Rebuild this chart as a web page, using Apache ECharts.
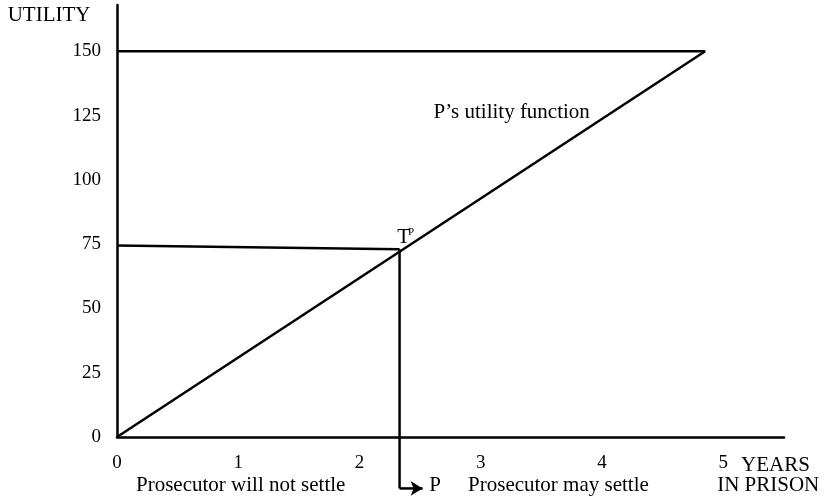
<!DOCTYPE html>
<html>
<head>
<meta charset="utf-8">
<script src="https://cdn.jsdelivr.net/npm/echarts@6/dist/echarts.min.js"></script>
<style>
  html, body { margin: 0; padding: 0; background: #fff; }
  #main { width: 826px; height: 498px; }
</style>
</head>
<body>
<div id="main"></div>
<script>
// values (years in prison vs utility)
var xTicks = [0, 1, 2, 3, 4, 5];
var yTicks = [0, 25, 50, 75, 100, 125, 150];
var utilityX = [0, 4.85];
var utilityY = [0, 150];
var topLineX = [0, 4.85];
var topLineY = [150, 150];
var settleX = [0, 2.33];
var settleY = [74.5, 73];
var dropX = [2.33, 2.33];
var dropY = [73, -20];
var arrowX = [2.33, 2.52];
var arrowY = [-20, -20];

var font = '"Liberation Serif", "Times New Roman", serif';
var lineStyle = { color: '#000', width: 2.5 };

function pairs(xs, ys) {
  return xs.map(function (x, i) { return [x, ys[i]]; });
}

var chart = echarts.init(document.getElementById('main'), null, { renderer: 'canvas' });

// arrow head only on the last point
var arrowData = pairs(arrowX, arrowY).map(function (p, i) {
  if (i === arrowX.length - 1) {
    return { value: p, symbol: 'arrow', symbolSize: [11, 12], symbolRotate: -90 };
  }
  return { value: p, symbol: 'none' };
});

var option = {
  animation: false,
  backgroundColor: '#fff',
  grid: { left: 117, right: 42, top: 5, bottom: 61, containLabel: false },
  xAxis: {
    type: 'value',
    min: 0,
    max: 5.5,
    interval: 1,
    splitLine: { show: false },
    axisTick: { show: false },
    axisLine: { onZero: false, lineStyle: { color: '#000', width: 2.5 } },
    axisLabel: {
      margin: 17,
      color: '#000',
      fontFamily: font,
      fontSize: 19,
      showMaxLabel: false,
      formatter: function (v) { return xTicks.indexOf(v) >= 0 ? String(v) : ''; }
    }
  },
  yAxis: {
    type: 'value',
    min: 0,
    max: 168,
    interval: 25,
    splitLine: { show: false },
    axisTick: { show: false },
    axisLine: { onZero: false, lineStyle: { color: '#000', width: 2.5 } },
    axisLabel: {
      margin: 16,
      color: '#000',
      fontFamily: font,
      fontSize: 19,
      showMaxLabel: false,
      formatter: function (v) { return yTicks.indexOf(v) >= 0 ? String(v) : ''; }
    }
  },
  series: [
    { type: 'line', data: pairs(utilityX, utilityY), symbol: 'none', lineStyle: lineStyle, clip: false },
    { type: 'line', data: pairs(topLineX, topLineY), symbol: 'none', lineStyle: lineStyle, clip: false },
    { type: 'line', data: pairs(settleX, settleY), symbol: 'none', lineStyle: lineStyle, clip: false },
    { type: 'line', data: pairs(dropX, dropY), symbol: 'none', lineStyle: lineStyle, clip: false },
    {
      type: 'line', data: arrowData, showSymbol: true, showAllSymbol: true,
      itemStyle: { color: '#000' }, lineStyle: lineStyle, clip: false
    }
  ]
};
chart.setOption(option);

// text notes anchored in data space
var notes = [
  { text: 'UTILITY', at: [-0.56, 164], align: 'center' },
  { text: 'P\u2019s utility function', at: [2.61, 126.3], align: 'left' },
  { text: 'T', at: [2.31, 77.7], align: 'left' },
  { text: 'P', at: [2.4, 79.8], align: 'left', size: 11 },
  { text: 'P', at: [2.575, -18.8], align: 'left' },
  { text: 'Prosecutor will not settle', at: [1.02, -19], align: 'center' },
  { text: 'Prosecutor may settle', at: [3.64, -19], align: 'center' },
  { text: 'YEARS', at: [5.43, -10.9], align: 'center' },
  { text: 'IN PRISON', at: [5.37, -19], align: 'center' }
];

chart.setOption({
  graphic: notes.map(function (n) {
    var p = chart.convertToPixel({ gridIndex: 0 }, n.at);
    return {
      type: 'text',
      x: p[0],
      y: p[1],
      style: {
        text: n.text,
        fill: '#000',
        font: (n.size || 21) + 'px ' + font,
        textAlign: n.align,
        textVerticalAlign: 'middle'
      }
    };
  })
});
</script>
</body>
</html>
